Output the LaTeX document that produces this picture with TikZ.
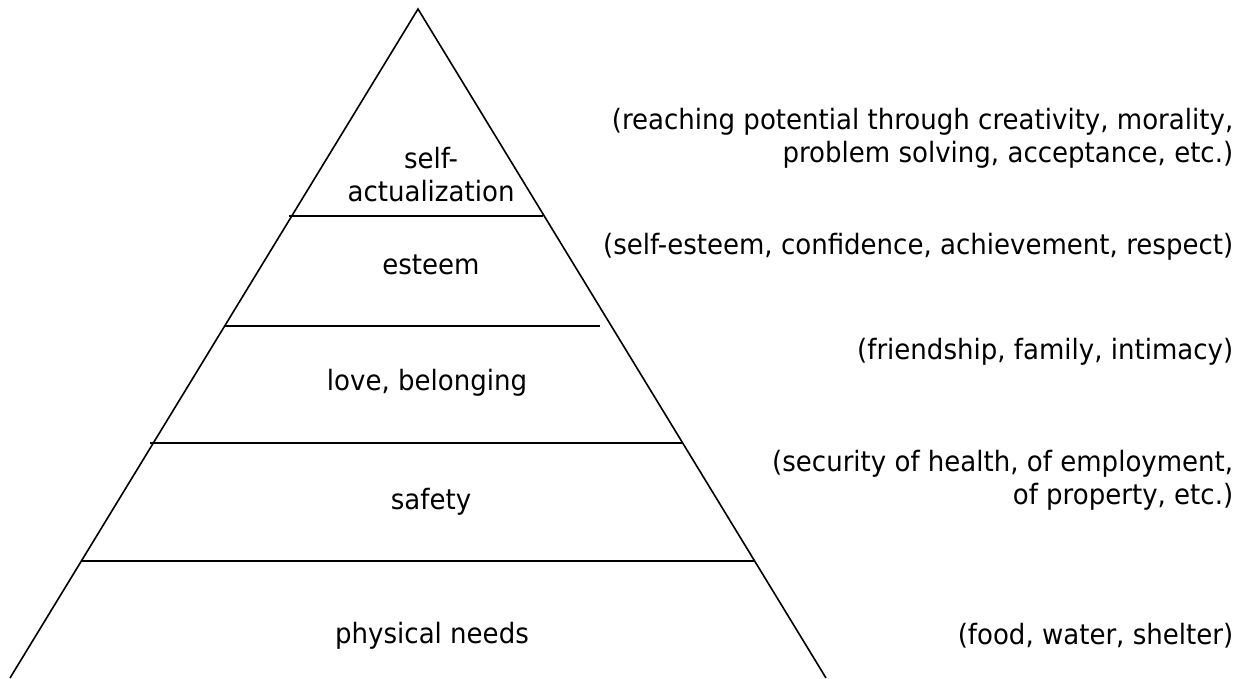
\documentclass[tikz,border=0pt]{standalone}
\usepackage{fontspec}
\setmainfont{DejaVu Sans}[FakeStretch=0.93]
\begin{document}
\begin{tikzpicture}[x=1pt,y=-1pt,line width=1.6pt,
  lbl/.style={font=\fontsize{28}{33}\selectfont, inner sep=0pt},
  note/.style={lbl, align=right, anchor=east},
  level/.style={lbl, align=center}]
\useasboundingbox (0,0) rectangle (1244,678);
\coordinate (apex) at (418,9);
\coordinate (bl) at (10,678);
\coordinate (br) at (826,678);
\draw (bl) -- (apex) -- (br);
\coordinate (l1a) at (289,216); \coordinate (l1b) at (543,216);
\coordinate (l2a) at (225,326); \coordinate (l2b) at (600,326);
\coordinate (l3a) at (150,443); \coordinate (l3b) at (683,443);
\coordinate (l4a) at (81,561);  \coordinate (l4b) at (755,561);
\draw (l1a) -- (l1b);
\draw (l2a) -- (l2b);
\draw (l3a) -- (l3b);
\draw (l4a) -- (l4b);
\node[level] (sa) at (431,175) {self-\\actualization};
\node[level] (es) at (431,265) {esteem};
\node[level] (lb) at (427,383) {love, belonging};
\node[level] (sf) at (431,502) {safety};
\node[level] (pn) at (432,636) {physical needs};
\node[note] (nsa) at (1234,138.5) {(reaching potential through creativity, morality,\\problem solving, acceptance, etc.)};
\node[note] (nes) at (1234,247) {(self-esteem, confidence, achievement, respect)};
\node[note] (nlb) at (1234,352) {(friendship, family, intimacy)};
\node[note] (nsf) at (1234,480.5) {(security of health, of employment,\\of property, etc.)};
\node[note] (npn) at (1234,636) {(food, water, shelter)};
\end{tikzpicture}
\end{document}
